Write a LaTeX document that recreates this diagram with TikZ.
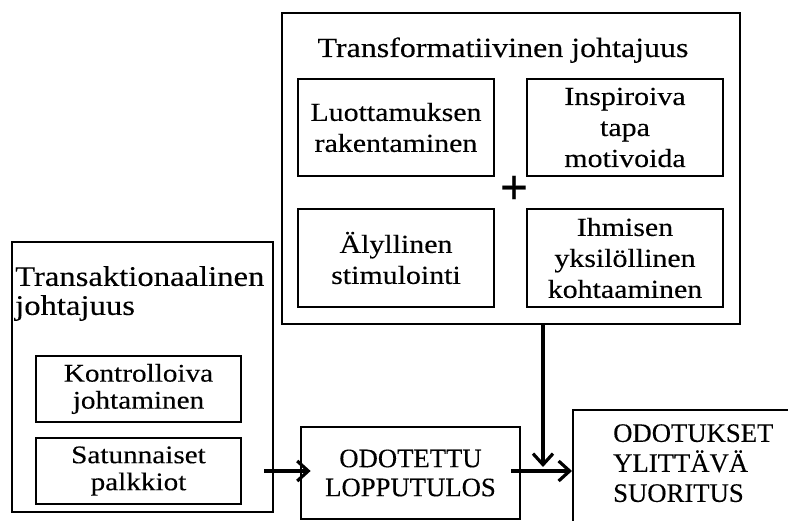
\documentclass[tikz,border=0pt]{standalone}
\usepackage{fontspec}
\setmainfont{Liberation Serif}[FakeStretch=1.15,FakeBold=0.25]
\newfontfamily\capsfont{Liberation Serif}[FakeBold=0.25]
\usetikzlibrary{arrows.meta}
\begin{document}
\begin{tikzpicture}[x=1pt,y=-1pt,
  outerbox/.style={draw, line width=1.2pt, inner sep=0pt},
  itembox/.style={draw, line width=2.8pt, align=center, inner sep=0pt,
    font=\fontsize{26}{31}\selectfont},
  smallbox/.style={draw, line width=2.8pt, align=center, inner sep=0pt,
    font=\fontsize{25.4}{27}\selectfont},
  resultbox/.style={draw, line width=2.4pt, inner sep=0pt},
  arr/.style={line width=3.2pt, -{Straight Barb[length=11pt,width=20pt]}}
]
\useasboundingbox (0,0) rectangle (788,521);

% transformational leadership
\node[outerbox, minimum width=458pt, minimum height=311pt] (trans) at (511,168.5) {};
\node[anchor=base, inner sep=0pt, font=\fontsize{27.8}{34}\selectfont] (transtitle) at (503,57)
  {Transformatiivinen johtajuus};
\node[itembox, minimum width=196pt, minimum height=97pt] (luott) at (396,127.5)
  {Luottamuksen\\rakentaminen};
\node[itembox, minimum width=196pt, minimum height=97pt] (insp) at (625,127.5)
  {Inspiroiva\\tapa\\motivoida};
\node[itembox, minimum width=196pt, minimum height=98pt] (alyl) at (396,258)
  {Älyllinen\\stimulointi};
\node[itembox, minimum width=196pt, minimum height=98pt] (ihm) at (625,258)
  {Ihmisen\\yksilöllinen\\kohtaaminen};
\node[inner sep=0pt, font=\capsfont\fontsize{50}{50}\bfseries] (plus) at (514,190) {+};

% transactional leadership
\node[outerbox, minimum width=261pt, minimum height=270pt] (transak) at (142.5,377) {};
\node[anchor=north west, inner sep=0pt, align=left, font=\fontsize{28.4}{29}\selectfont]
  (transaktitle) at (15,266) {Transaktionaalinen\\johtajuus};
\node[smallbox, minimum width=205pt, minimum height=66pt] (kontr) at (138.5,389)
  {Kontrolloiva\\johtaminen};
\node[smallbox, minimum width=205pt, minimum height=66pt] (satun) at (138.5,471)
  {Satunnaiset\\palkkiot};

% outcomes
\node[resultbox, line width=2.8pt, align=center, font=\capsfont\fontsize{26.7}{29}\selectfont,
  minimum width=219pt, minimum height=92pt] (odotettu) at (410.5,473)
  {ODOTETTU\\LOPPUTULOS};
\node[resultbox, anchor=north west, minimum width=260pt, minimum height=150pt]
  (odotukset) at (572,409) {};
\node[anchor=north west, inner sep=0pt, align=left, font=\capsfont\fontsize{26.7}{30}\selectfont]
  (odotuksettext) at (613,424) {ODOTUKSET\\YLITTÄVÄ\\SUORITUS};

% connectors
\coordinate (lstart) at (264,471);
\coordinate (vtip) at (543,467);
\draw[arr] (lstart) -- ([xshift=11pt]odotettu.west |- lstart);
\draw[arr] ([xshift=-10pt]odotettu.east |- lstart) -- (odotukset.west |- lstart);
\draw[arr] (vtip |- trans.south) -- (vtip);
\end{tikzpicture}
\end{document}
